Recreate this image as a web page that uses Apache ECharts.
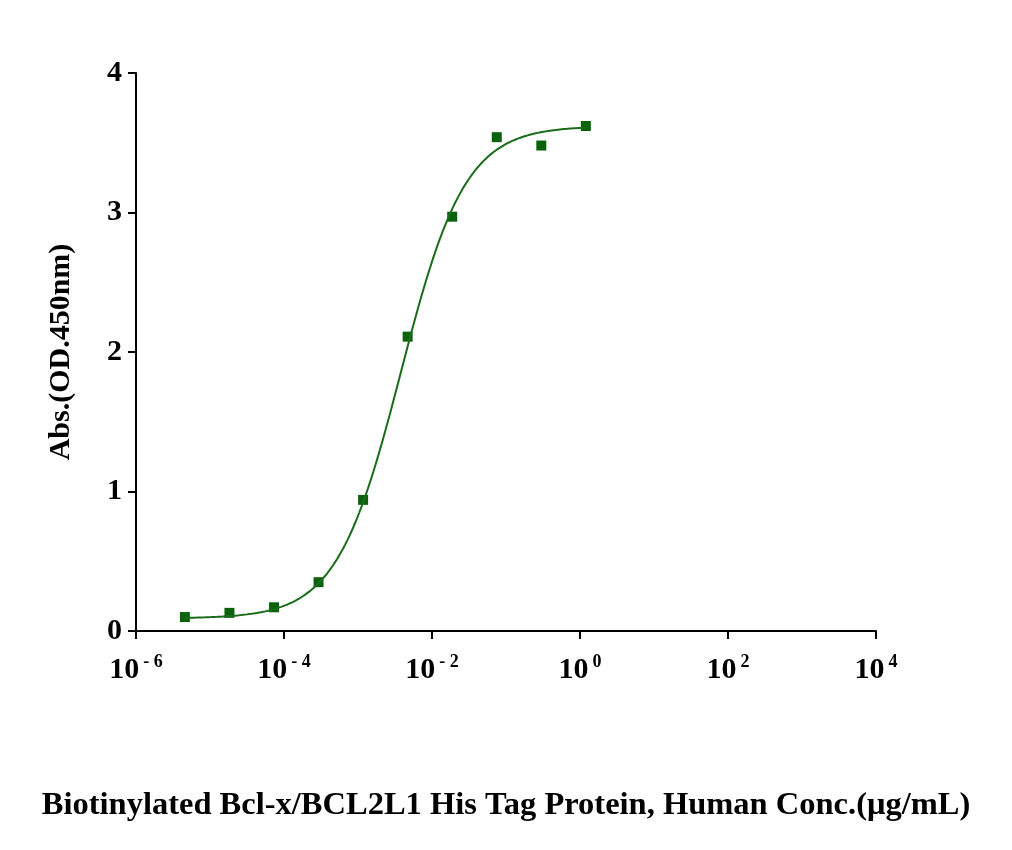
<!DOCTYPE html><html><head><meta charset="utf-8"><script src="https://cdn.jsdelivr.net/npm/echarts@6/dist/echarts.min.js"></script></head><body style="margin:0"><div id="c" style="width:1012px;height:850px"></div><script>
const conc=[1.2/Math.pow(4,9),1.2/Math.pow(4,8),1.2/Math.pow(4,7),1.2/Math.pow(4,6),1.2/Math.pow(4,5),1.2/Math.pow(4,4),1.2/Math.pow(4,3),1.2/Math.pow(4,2),1.2/4,1.2];
const absVals=[0.10,0.13,0.17,0.35,0.94,2.11,2.97,3.54,3.48,3.62];
const fit={bottom:0.09,top:3.62,ec50:0.0038,hill:1.0};
const curve=[];
for(let i=0;i<=200;i++){const lx=Math.log10(conc[0])+(Math.log10(conc[9])-Math.log10(conc[0]))*i/200;const x=Math.pow(10,lx);const r=Math.pow(x/fit.ec50,fit.hill);curve.push([x,fit.bottom+(fit.top-fit.bottom)*r/(1+r)]);}
const F='Liberation Serif';
const ch=echarts.init(document.getElementById('c'));
ch.setOption({animation:false,grid:{left:136,right:136,top:73,bottom:219},
xAxis:{type:'log',logBase:10,min:1e-6,max:1e4,interval:2,
axisLine:{lineStyle:{color:'#000',width:2}},axisTick:{lineStyle:{width:2},length:8},splitLine:{show:false},minorTick:{show:false},
axisLabel:{margin:22,formatter:v=>{const e=Math.round(Math.log10(v));return '{b|10}{s|'+(e<0?'- '+(-e):e)+'}';},
rich:{b:{fontFamily:F,fontWeight:'bold',fontSize:30,color:'#000'},s:{fontFamily:F,fontWeight:'bold',fontSize:18,color:'#000',verticalAlign:'top',padding:[0,0,16,4]}}},
name:'Biotinylated Bcl-x/BCL2L1 His Tag Protein, Human Conc.(μg/mL)',nameLocation:'middle',nameGap:158,nameTextStyle:{fontFamily:F,fontWeight:'bold',fontSize:32.5,color:'#000'}},
yAxis:{type:'value',min:0,max:4,interval:1,axisLine:{show:true,lineStyle:{color:'#000',width:2}},axisTick:{show:true,lineStyle:{width:2},length:8},splitLine:{show:false},
axisLabel:{margin:14,fontFamily:F,fontWeight:'bold',fontSize:30,color:'#000'},
name:'Abs.(OD.450nm)',nameLocation:'middle',nameGap:60,nameTextStyle:{fontFamily:F,fontWeight:'bold',fontSize:30,color:'#000'}},
series:[{type:'line',data:curve,showSymbol:false,lineStyle:{color:'#1a6b1a',width:2},silent:true},
{type:'scatter',data:conc.map((c,i)=>[c,absVals[i]]),symbol:'rect',symbolSize:10,itemStyle:{color:'#0b620b',opacity:1}}]});
</script></body></html>
